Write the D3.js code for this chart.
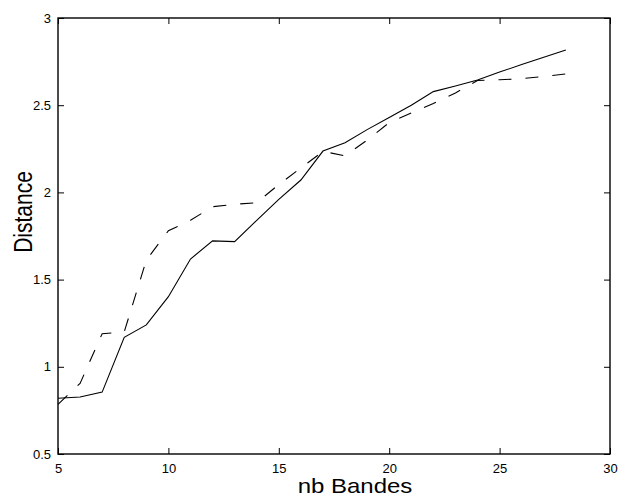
<!DOCTYPE html>
<html>
<head>
<meta charset="utf-8">
<script src="https://cdn.jsdelivr.net/npm/d3@7"></script>
<style>
  html, body { margin: 0; padding: 0; background: #fff; }
  svg { display: block; }
  text { font-family: "Liberation Sans", Arial, Helvetica, sans-serif; fill: #000; }
</style>
</head>
<body>
<script>
// ---- data ----
const nbBandes = [5,6,7,8,9,10,11,12,13,14,15,16,17,18,19,20,21,22,23,24,25,26,27,28];
const distanceSolid = [0.82,0.827,0.855,1.169,1.24,1.402,1.618,1.722,1.718,1.84,1.96,2.071,2.237,2.285,2.36,2.43,2.50,2.578,2.61,2.644,2.69,2.733,2.775,2.817];
const distanceDashed = [0.785,0.905,1.19,1.20,1.612,1.78,1.84,1.918,1.932,1.941,2.045,2.14,2.235,2.21,2.30,2.40,2.455,2.51,2.57,2.642,2.646,2.652,2.665,2.679];
const xTicks = [5,10,15,20,25,30];
const yTicks = [0.5,1,1.5,2,2.5,3];
const xTickLabels = ["5","10","15","20","25","30"];
const yTickLabels = ["0.5","1","1.5","2","2.5","3"];
const xTitle = "nb Bandes";
const yTitle = "Distance";

// ---- layout ----
const W = 631, H = 498;
const m = {left: 58, right: 21, top: 18, bottom: 44};
const iw = W - m.left - m.right, ih = H - m.top - m.bottom;

const svg = d3.select("body").append("svg").attr("width", W).attr("height", H);
const x = d3.scaleLinear().domain([5, 30]).range([m.left, m.left + iw]);
const y = d3.scaleLinear().domain([0.5, 3]).range([m.top + ih, m.top]);

const tickLen = 6;
// axes with inward ticks
const gx = svg.append("g").attr("transform", `translate(0,${m.top + ih})`)
  .call(d3.axisBottom(x).tickValues(xTicks).tickFormat((d,i) => xTickLabels[i]).tickSizeInner(-tickLen).tickSizeOuter(0).tickPadding(tickLen + 4));
const gxTop = svg.append("g").attr("transform", `translate(0,${m.top})`)
  .call(d3.axisTop(x).tickValues(xTicks).tickFormat("").tickSizeInner(-tickLen).tickSizeOuter(0));
const gy = svg.append("g").attr("transform", `translate(${m.left},0)`)
  .call(d3.axisLeft(y).tickValues(yTicks).tickFormat((d,i) => yTickLabels[i]).tickSizeInner(-tickLen).tickSizeOuter(0).tickPadding(tickLen + 1));
const gyR = svg.append("g").attr("transform", `translate(${m.left + iw},0)`)
  .call(d3.axisRight(y).tickValues(yTicks).tickFormat("").tickSizeInner(-tickLen).tickSizeOuter(0));

[gx, gxTop, gy, gyR].forEach(g => {
  g.select(".domain").remove();
  g.selectAll(".tick line").attr("stroke", "#000").attr("stroke-width", 1);
  g.selectAll(".tick text").attr("font-size", 13).attr("fill", "#000")
    .style("font-family", '"Liberation Sans", Arial, sans-serif');
});

// box
svg.append("rect").attr("x", m.left).attr("y", m.top).attr("width", iw).attr("height", ih)
  .attr("fill", "none").attr("stroke", "#000").attr("stroke-width", 1.4);

// lines
const line = d3.line().x((d) => x(d[0])).y((d) => y(d[1]));
svg.append("path").datum(nbBandes.map((v,i) => [v, distanceSolid[i]]))
  .attr("d", line).attr("fill", "none").attr("stroke", "#000").attr("stroke-width", 1.1);
svg.append("path").datum(nbBandes.map((v,i) => [v, distanceDashed[i]]))
  .attr("d", line).attr("fill", "none").attr("stroke", "#000").attr("stroke-width", 1.1)
  .attr("stroke-dasharray", "13,14");

// titles
svg.append("text").attr("transform", `translate(355,493) scale(1.2,1)`)
  .attr("text-anchor", "middle").attr("font-size", 20).text(xTitle);
svg.append("text").attr("transform", `translate(32,212) scale(1.2,1) rotate(-90)`)
  .attr("text-anchor", "middle").attr("font-size", 21).text(yTitle);
</script>
</body>
</html>
